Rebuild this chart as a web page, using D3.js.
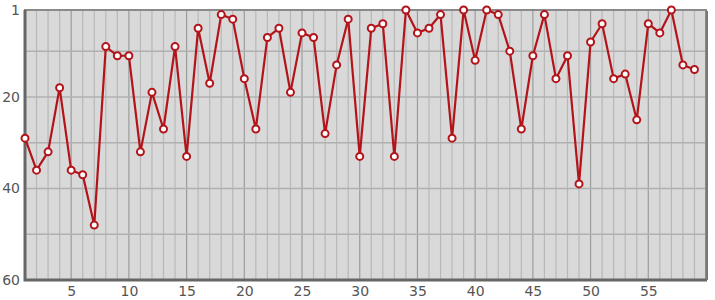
<!DOCTYPE html>
<html>
<head>
<meta charset="utf-8">
<script src="https://cdn.jsdelivr.net/npm/d3@7"></script>
<style>
body { margin: 0; background: #fff; }
svg { display: block; }
</style>
</head>
<body>
<svg id="chart" width="715" height="300"></svg>
<script>
// rank per round
var rounds = d3.range(1, 60);
var ranks = [29, 36, 32, 18, 36, 37, 48, 9, 11, 11,
             32, 19, 27, 9, 33, 5, 17, 2, 3, 16,
             27, 7, 5, 19, 6, 7, 28, 13, 3, 33,
             5, 4, 33, 1, 6, 5, 2, 29, 1, 12,
             1, 2, 10, 27, 11, 2, 16, 11, 39, 8,
             4, 16, 15, 25, 4, 6, 1, 13, 14];
var yTicks = [1, 20, 40, 60];
var xTicks = [5, 10, 15, 20, 25, 30, 35, 40, 45, 50, 55];

var svg = d3.select('#chart');
// plot box (window.top is reserved, so use other names)
var pLeft = 25, pRight = 706, pTop = 10, pBottom = 280;

var x = d3.scaleLinear().domain([1, 60]).range([pLeft, pRight]);
var y = d3.scaleLinear().domain([1, 60]).range([pTop, pBottom]);

// background
svg.append('rect')
    .attr('x', pLeft).attr('y', pTop)
    .attr('width', pRight - pLeft).attr('height', pBottom - pTop)
    .attr('fill', '#d9d9d9');

// vertical grid, every round, darker every 5
svg.append('g').selectAll('line')
    .data(d3.range(2, 60))
    .join('line')
    .attr('x1', function(d) { return x(d); })
    .attr('x2', function(d) { return x(d); })
    .attr('y1', pTop).attr('y2', pBottom)
    .attr('stroke', function(d) { return d % 5 === 0 ? '#9c9c9c' : '#b8b8b8'; })
    .attr('stroke-width', 1.2);

// horizontal grid
svg.append('g').selectAll('line')
    .data([10, 20, 30, 40, 50])
    .join('line')
    .attr('x1', pLeft).attr('x2', pRight)
    .attr('y1', function(d) { return y(d); })
    .attr('y2', function(d) { return y(d); })
    .attr('stroke', '#b0b0b0')
    .attr('stroke-width', 1.5);

// frame: light top/right, dark left/bottom
svg.append('rect')
    .attr('x', pLeft).attr('y', pTop)
    .attr('width', pRight - pLeft).attr('height', pBottom - pTop)
    .attr('fill', 'none')
    .attr('stroke', '#8a8a8a')
    .attr('stroke-width', 2);
svg.append('path')
    .attr('d', 'M' + pLeft + ',' + pTop + 'V' + pBottom + 'H' + (pRight + 1))
    .attr('fill', 'none')
    .attr('stroke', '#666')
    .attr('stroke-width', 3);
svg.append('line')
    .attr('x1', pRight + 1).attr('x2', pRight + 1)
    .attr('y1', pTop + 1).attr('y2', pBottom)
    .attr('stroke', '#777')
    .attr('stroke-width', 2);

// axes labels
var yAxis = d3.axisLeft(y).tickValues(yTicks).tickSize(0).tickPadding(5);
var gy = svg.append('g').attr('transform', 'translate(' + pLeft + ',0)').call(yAxis);
var xAxis = d3.axisBottom(x).tickValues(xTicks).tickSize(0).tickPadding(6);
var gx = svg.append('g').attr('transform', 'translate(0,' + pBottom + ')').call(xAxis);
[gy, gx].forEach(function(g) {
    g.select('.domain').remove();
    g.selectAll('text')
        .attr('fill', '#555')
        .style('font-family', 'DejaVu Sans, sans-serif')
        .style('font-size', '14px');
});

// line
var line = d3.line()
    .x(function(d, i) { return x(rounds[i]); })
    .y(function(d) { return y(d); });

svg.append('path')
    .datum(ranks)
    .attr('d', line)
    .attr('fill', 'none')
    .attr('stroke', '#b3141a')
    .attr('stroke-width', 2.2)
    .attr('stroke-linejoin', 'round');

svg.append('g').selectAll('circle')
    .data(ranks)
    .join('circle')
    .attr('cx', function(d, i) { return x(rounds[i]); })
    .attr('cy', function(d) { return y(d); })
    .attr('r', 3.5)
    .attr('fill', '#fff')
    .attr('stroke', '#b3141a')
    .attr('stroke-width', 2);
</script>
</body>
</html>
